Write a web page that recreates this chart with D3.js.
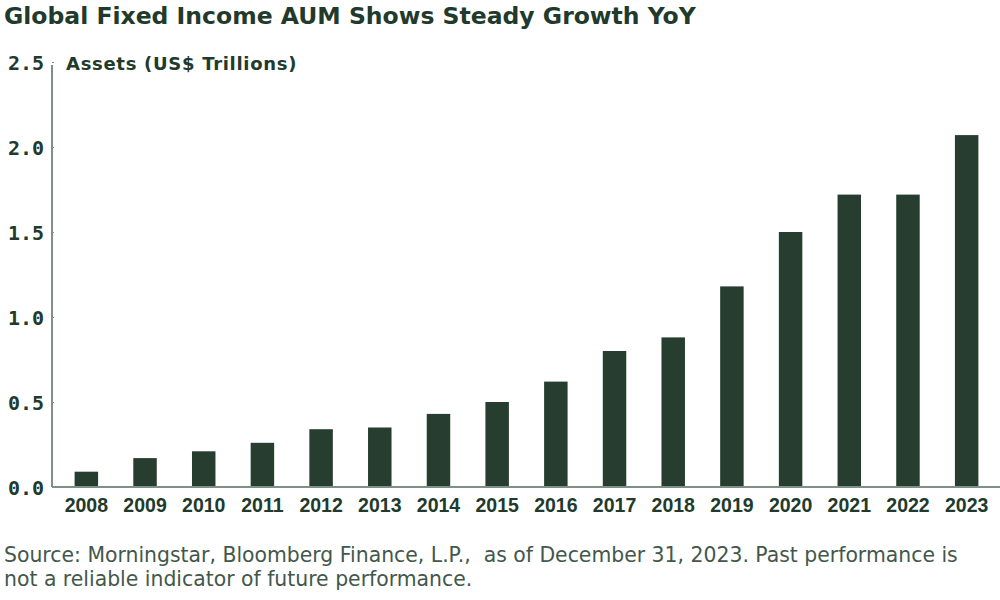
<!DOCTYPE html>
<html>
<head>
<meta charset="utf-8">
<script src="https://cdn.jsdelivr.net/npm/d3@7"></script>
<style>
  body { margin: 0; background: #fff; }
  svg { display: block; }
  .title { font-family: "DejaVu Sans", sans-serif; font-weight: 700; font-size: 23.5px; fill: #213a2c; }
  .unit { font-family: "DejaVu Sans", sans-serif; font-weight: 700; font-size: 18px; letter-spacing: 0.7px; fill: #213a2c; }
  .yaxis text { font-family: "DejaVu Sans Mono", monospace; font-weight: 700; font-size: 20px; fill: #213a2c; }
  .xaxis text { font-family: "Liberation Sans", sans-serif; font-weight: 700; font-size: 19.5px; fill: #213a2c; }
  .source { font-family: "DejaVu Sans", sans-serif; font-size: 20.4px; fill: #43574b; white-space: pre; }
</style>
</head>
<body>
<svg id="chart" width="1000" height="600"></svg>
<script>
// chart data
const years = ["2008", "2009", "2010", "2011", "2012", "2013", "2014", "2015",
  "2016", "2017", "2018", "2019", "2020", "2021", "2022", "2023"];
const assets = [0.09, 0.17, 0.21, 0.26, 0.34, 0.35, 0.43, 0.5,
  0.62, 0.8, 0.88, 1.18, 1.5, 1.72, 1.72, 2.07];
const yTicks = [0, 0.5, 1.0, 1.5, 2.0, 2.5];

const svg = d3.select("#chart");
const barColor = "#263d2f";
const axisColor = "#7f9087";

const x = d3.scaleBand()
  .domain(years)
  .range([57, 996])
  .paddingInner(0.6)
  .paddingOuter(0.3);

const y = d3.scaleLinear()
  .domain([0, 2.5])
  .range([487, 62]);

// title
svg.append("text")
  .attr("class", "title")
  .attr("x", 4)
  .attr("y", 24)
  .text("Global Fixed Income AUM Shows Steady Growth YoY");

// bars
svg.append("g")
  .selectAll("rect")
  .data(years)
  .join("rect")
  .attr("x", d => x(d))
  .attr("width", x.bandwidth())
  .attr("y", (d, i) => y(assets[i]))
  .attr("height", (d, i) => y(0) - y(assets[i]))
  .attr("fill", barColor);

// y axis
const yAxis = svg.append("g")
  .attr("class", "yaxis")
  .attr("transform", "translate(52,0)")
  .call(d3.axisRight(y).tickValues(yTicks).tickFormat(d3.format(".1f")).tickSize(2));
yAxis.select(".domain").attr("stroke", axisColor).attr("stroke-width", 2)
  .attr("d", `M0,${y(2.5) + 3}V${y(0)}`);
yAxis.selectAll(".tick line").attr("stroke", axisColor);
yAxis.selectAll(".tick text")
  .attr("x", -8)
  .attr("dy", "0.35em")
  .attr("text-anchor", "end");

// x axis baseline
svg.append("line")
  .attr("x1", 52).attr("x2", 1000)
  .attr("y1", y(0)).attr("y2", y(0))
  .attr("stroke", axisColor)
  .attr("stroke-width", 2);

const xAxis = svg.append("g")
  .attr("class", "xaxis")
  .attr("transform", `translate(0,${y(0)})`)
  .call(d3.axisBottom(x).tickSize(0).tickPadding(10));
xAxis.select(".domain").remove();
xAxis.selectAll(".tick text").attr("dy", null).attr("y", 25);

// unit label
svg.append("text")
  .attr("class", "unit")
  .attr("x", 66)
  .attr("y", 70)
  .text("Assets (US$ Trillions)");

// source note
const src = svg.append("text").attr("class", "source");
src.append("tspan").attr("x", 4).attr("y", 562)
  .text("Source: Morningstar, Bloomberg Finance, L.P.,  as of December 31, 2023. Past performance is");
src.append("tspan").attr("x", 4).attr("y", 586)
  .text("not a reliable indicator of future performance.");
</script>
</body>
</html>
